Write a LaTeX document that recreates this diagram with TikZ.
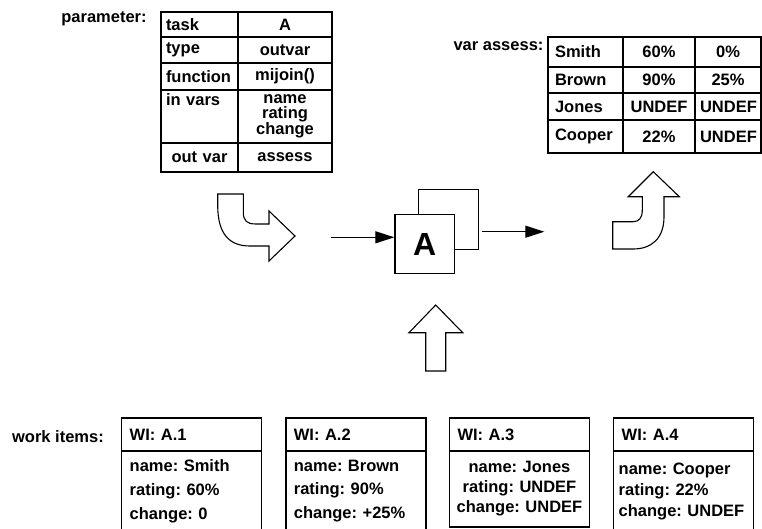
\documentclass[tikz,border=0pt]{standalone}
\usepackage{fontspec}
\setmainfont{Liberation Sans}
\usetikzlibrary{arrows.meta}
\frenchspacing

\tikzset{
  cell/.style={draw,line width=1.4pt,inner xsep=5pt,inner ysep=0pt,outer sep=0pt},
  pkey/.style={cell,text width=67pt,align=left},
  pval/.style={cell,text width=84pt,align=center},
  itemhead/.style={draw,line width=1.4pt,minimum height=33,text width=124pt,
    inner xsep=8pt,inner ysep=0pt,outer sep=0pt,align=left},
  itembody/.style={draw,line width=1.4pt,minimum height=80,text width=124pt,
    inner xsep=8pt,inner ysep=0pt,outer sep=0pt},
  blockarrow/.style={draw,fill=white,line width=1.1pt,line join=miter},
  flow/.style={line width=1.2pt,-{Triangle[length=19pt,width=12pt]}},
}

\begin{document}
\begin{tikzpicture}[x=1pt,y=-1pt,font=\fontsize{16.5}{19}\selectfont\bfseries]
    \useasboundingbox (0,0) rectangle (762,528);
    \clip (0,0) rectangle (762,528);

    % parameter table
    \path (104,19) node (plabel) {parameter:};
    \path (199.5, 24.5) node [pkey,minimum height=25] (ptask) {task};
    \path (285, 24.5) node [pval,minimum height=25] (ptaskv) {A};
    \path (199.5, 50) node [pkey,minimum height=26] (ptype) {type};
    \path (285, 50) node [pval,minimum height=26] (ptypev) {outvar};
    \path (199.5, 76.5) node [pkey,minimum height=27] (pfunc) {function};
    \path (285, 76.5) node [pval,minimum height=27] (pfuncv) {mijoin()};
    \path (199.5,116.5) node [pkey,minimum height=53,
	font=\fontsize{16.5}{15}\selectfont\bfseries] (pin) {in vars\\~\\\phantom{g}};
    \path (285,116.5) node [pval,minimum height=53,
	font=\fontsize{16.5}{15}\selectfont\bfseries] (pinv) {name\\rating\\change};
    \path (199.5,157.5) node [pkey,minimum height=29,align=center] (pout) {out var};
    \path (285,157.5) node [pval,minimum height=29] (poutv) {assess};

    % var assess table
    \path (498.5,46) node (alabel) {var assess:};
    \path (585.5, 52) node [cell,text width=61pt,inner xsep=7pt,minimum height=30] (a1) {Smith};
    \path (659, 52) node [cell,text width=62pt,align=center,minimum height=30] (a1r) {60\%};
    \path (728, 52) node [cell,text width=56pt,align=center,minimum height=30] (a1c) {0\%};
    \path (585.5, 80) node [cell,text width=61pt,inner xsep=7pt,minimum height=26] (a2) {Brown};
    \path (659, 80) node [cell,text width=62pt,align=center,minimum height=26] (a2r) {90\%};
    \path (728, 80) node [cell,text width=56pt,align=center,minimum height=26] (a2c) {25\%};
    \path (585.5,106.5) node [cell,text width=61pt,inner xsep=7pt,minimum height=27] (a3) {Jones};
    \path (659,106.5) node [cell,text width=62pt,align=center,minimum height=27] (a3r) {UNDEF};
    \path (728,106.5) node [cell,text width=56pt,align=center,minimum height=27] (a3c) {UNDEF};
    \path (585.5,136.5) node [cell,text width=61pt,inner xsep=7pt,minimum height=33] (a4) {Cooper};
    \path (659,136.5) node [cell,text width=62pt,align=center,minimum height=33] (a4r) {22\%};
    \path (728,136.5) node [cell,text width=56pt,align=center,minimum height=33] (a4c) {UNDEF};

    % task A
    \path (448.5,219.5) node [draw,fill=white,line width=1.4pt,minimum size=59.6] (back) {};
    \path (424.7,244) node [draw,fill=white,line width=1.4pt,minimum size=59.4,inner sep=0pt,
	font=\fontsize{32}{32}\selectfont\bfseries] (task) {A};
    \coordinate (in) at (330.7,237.3);
    \coordinate (out) at (544.3,231.7);
    \draw [flow] (in) -- (in -| task.west);
    \draw [flow] ([xshift=2.5pt]back.east |- out) -- (out);

    % block arrows
    \draw [blockarrow] (217.7,194) -- (243.3,194) -- (243.3,212)
	.. controls (243.3,221) and (247,224) .. (256,224) -- (269,224)
	-- (269,211) -- (295,236) -- (269,261) -- (269,246) -- (250,246)
	.. controls (230,246) and (217.7,235) .. (217.7,205) -- cycle;
    \draw [blockarrow] (612.7,249) -- (612.7,221.7) -- (633,221.7)
	.. controls (639,221.7) and (642.3,218) .. (642.3,210) -- (642.3,196.7)
	-- (628.3,196.7) -- (653.3,171.7) -- (679.3,196.7) -- (664,196.7)
	-- (664,216.7) .. controls (664,238) and (652,249) .. (633,249) -- cycle;
    \draw [blockarrow] (425.7,371) -- (425.7,332.7) -- (409,332.7) -- (435.7,305)
	-- (462.7,332.7) -- (445.7,332.7) -- (445.7,371) -- cycle;

    % work items
    \path (58,437) node (wlabel) {work items:};
    \path (191.7,434.5) node [itemhead] (w1) {WI: A.1};
    \path (191.7,491) node [itembody,align=left,
	font=\fontsize{16.5}{24}\selectfont\bfseries] (w1b) {name: Smith\\rating: 60\%\\change: 0};
    \path (355.9,434.5) node [itemhead] (w2) {WI: A.2};
    \path (355.9,491) node [itembody,align=left,
	font=\fontsize{16.5}{23.5}\selectfont\bfseries] (w2b) {name: Brown\\rating: 90\%\\change: +25\%};
    \path (519.5,434.5) node [itemhead] (w3) {WI: A.3};
    \path (519.5,489) node [itembody,align=center,inner xsep=3pt,text width=134pt,minimum height=76,
	font=\fontsize{16.5}{20}\selectfont\bfseries] (w3b) {name: Jones\\rating: UNDEF\\change: UNDEF};
    \path (683.7,434.5) node [itemhead] (w4) {WI: A.4};
    \path (683.7,491) node [itembody,align=left,inner xsep=5pt,text width=130pt,
	font=\fontsize{16.5}{21}\selectfont\bfseries] (w4b) {name: Cooper\\rating: 22\%\\change: UNDEF};
\end{tikzpicture}
\end{document}
